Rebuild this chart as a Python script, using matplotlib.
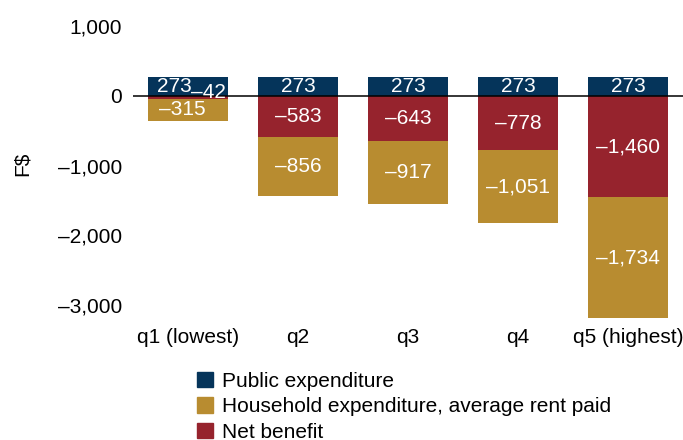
import matplotlib
matplotlib.use("Agg")
import matplotlib.pyplot as plt
from matplotlib.ticker import FuncFormatter, FixedLocator
from matplotlib.patches import Patch

categories = ["q1 (lowest)", "q2", "q3", "q4", "q5 (highest)"]
public_exp = [273, 273, 273, 273, 273]
net_benefit = [-42, -583, -643, -778, -1460]
household_exp = [-315, -856, -917, -1051, -1734]
yticks = [1000, 0, -1000, -2000, -3000]

c_pub = "#05345a"
c_hh = "#b88c30"
c_net = "#96232d"

plt.rcParams['font.family'] = ['Liberation Sans', 'DejaVu Sans']
FS = 15

W, H = 683, 440
fig = plt.figure(figsize=(W / 100, H / 100), dpi=100)
ax = fig.add_axes([133 / W, 1 - 322 / H, (683 - 133) / W, (322 - 20) / H])

x = list(range(len(categories)))
bw = 0.725
ax.bar(x, public_exp, width=bw, color=c_pub, zorder=2)
ax.bar(x, net_benefit, width=bw, color=c_net, zorder=2)
ax.bar(x, household_exp, width=bw, bottom=net_benefit, color=c_hh, zorder=2)

ax.axhline(0, color="black", lw=1.1, zorder=3)


def fmt(v):
    s = f"{abs(v):,.0f}"
    return ("–" + s) if v < 0 else s


for i in x:
    dx_pub = dx_net = dx_hh = 0.0
    dy_net = 0.0
    if i == 0:
        dx_pub, dx_net, dx_hh, dy_net = -0.12, 0.19, -0.05, 70
    ax.text(i + dx_pub, public_exp[i] / 2, fmt(public_exp[i]), color="white",
            ha="center", va="center", fontsize=FS, zorder=4)
    ax.text(i + dx_net, net_benefit[i] / 2 + dy_net, fmt(net_benefit[i]), color="white",
            ha="center", va="center", fontsize=FS, zorder=4)
    ax.text(i + dx_hh, net_benefit[i] + household_exp[i] / 2, fmt(household_exp[i]),
            color="white", ha="center", va="center", fontsize=FS, zorder=4)

ax.set_xlim(-0.5, 4.5)
ax.set_ylim(-3250, 1092)
ax.yaxis.set_major_locator(FixedLocator(yticks))
ax.yaxis.set_major_formatter(FuncFormatter(lambda v, p: fmt(v)))
ax.set_xticks(x)
ax.set_xticklabels(categories)
ax.tick_params(axis="both", length=0, labelsize=FS)
ax.tick_params(axis="y", pad=8)
ax.tick_params(axis="x", pad=4)
for s in ax.spines.values():
    s.set_visible(False)

fig.text(22 / W, 1 - 164 / H, "F$", rotation=90, ha="center", va="center", fontsize=FS)

handles = [Patch(color=c_pub, label="Public expenditure"),
           Patch(color=c_hh, label="Household expenditure, average rent paid"),
           Patch(color=c_net, label="Net benefit")]
fig.legend(handles=handles, loc="upper left", bbox_to_anchor=(197 / W, 1 - 372 / H),
           frameon=False, fontsize=FS, handlelength=0.75, handleheight=0.75,
           handletextpad=0.45, labelspacing=0.3, borderpad=0, borderaxespad=0)

fig.savefig("out.png", dpi=100)
